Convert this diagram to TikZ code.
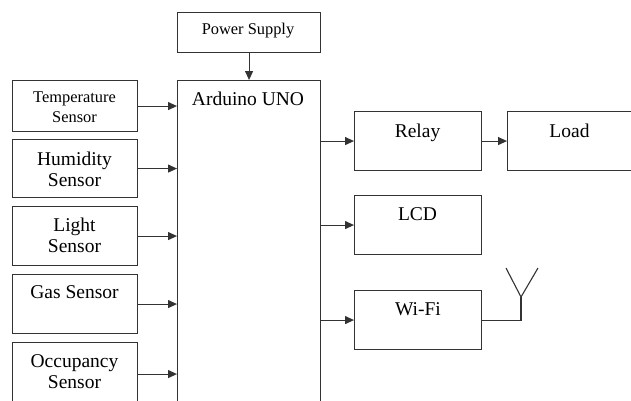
\documentclass[tikz,border=0pt]{standalone}
\usepackage{fontspec}
\setmainfont{Liberation Serif}
\usetikzlibrary{arrows.meta}
\begin{document}
\begin{tikzpicture}[x=1pt,y=-1pt,
  box/.style={draw=black!80, line width=1.1pt, rectangle, inner sep=0pt, anchor=north west},
  lbl/.style={font=\fontsize{19.5}{21}\selectfont, align=center, inner sep=0pt, anchor=center},
  slbl/.style={font=\fontsize{16.4}{20}\selectfont, align=center, inner sep=0pt, anchor=center},
  arr/.style={draw=black!80, line width=1.1pt, -{Triangle[length=9pt,width=8pt]}},
  wire/.style={draw=black!80, line width=1.1pt}]
\useasboundingbox (0,0) rectangle (631,400);
% boxes
\node[box, minimum width=143pt, minimum height=40pt] (ps) at (177,12) {};
\node[box, minimum width=143pt, minimum height=325pt] (ard) at (177,80) {};
\node[box, minimum width=125pt, minimum height=51pt] (temp) at (12,80) {};
\node[box, minimum width=125pt, minimum height=58pt] (hum) at (12,139) {};
\node[box, minimum width=125pt, minimum height=59pt] (light) at (12,206) {};
\node[box, minimum width=125pt, minimum height=59pt] (gas) at (12,274) {};
\node[box, minimum width=125pt, minimum height=63pt] (occ) at (12,342) {};
\node[box, minimum width=127pt, minimum height=59pt] (relay) at (354,111) {};
\node[box, minimum width=128pt, minimum height=59pt] (load) at (507,111) {};
\node[box, minimum width=127pt, minimum height=59pt] (lcd) at (354,195) {};
\node[box, minimum width=127pt, minimum height=59pt] (wifi) at (354,290) {};
% texts
\node[slbl] (tps) at (248,30.2) {Power Supply};
\node[lbl] (tard) at (248,99.3) {Arduino UNO};
\node[slbl] (ttemp) at (74.5,106.9) {Temperature\\Sensor};
\node[lbl] (thum) at (74.5,168.9) {Humidity\\Sensor};
\node[lbl] (tlight) at (74.5,235.8) {Light\\Sensor};
\node[lbl] (tgas) at (74.5,292.4) {Gas Sensor};
\node[lbl] (tocc) at (74.5,371.7) {Occupancy\\Sensor};
\node[lbl] (trelay) at (417.5,132.7) {Relay};
\node[lbl] (tload) at (569.5,130.7) {Load};
\node[lbl] (tlcd) at (417.5,214.4) {LCD};
\node[lbl] (twifi) at (418,309.5) {Wi-Fi};
% connectors
\draw[arr] (ps.south) -- (ard.north);
\foreach \s in {temp,hum,light,gas,occ}
  \draw[arr] (\s.east) -- (\s.east -| ard.west);
\foreach \s in {relay,lcd,wifi}
  \draw[arr] (\s.west -| ard.east) -- (\s.west);
\draw[arr] (relay.east) -- (load.west);
% antenna
\coordinate (ant) at (521,297);
\coordinate (antL) at (506,268);
\coordinate (antR) at (538,268);
\draw[wire] (wifi.east) -| (ant);
\draw[wire] (antL) -- (ant) -- (antR);
\end{tikzpicture}
\end{document}
